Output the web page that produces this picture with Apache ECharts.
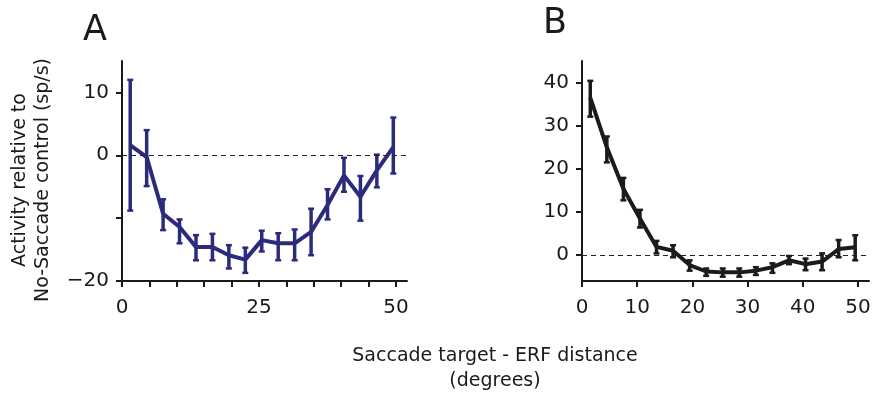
<!DOCTYPE html>
<html>
<head>
    <meta charset="utf-8">
    <script src="https://cdn.jsdelivr.net/npm/echarts@6/dist/echarts.min.js"></script>
    <style>
        html, body { margin: 0; padding: 0; background: #fff; }
        #main { width: 874px; height: 401px; }
    </style>
</head>
<body>
    <div id="main"></div>
    <script>
        // saccade target - ERF distance (deg), shared by both panels
        var distA = [1.5, 4.5, 7.5, 10.5, 13.5, 16.5, 19.5, 22.5, 25.5, 28.5, 31.5, 34.5, 37.5, 40.5, 43.5, 46.5, 49.5];
        var distB = [1.5, 4.5, 7.5, 10.5, 13.5, 16.5, 19.5, 22.5, 25.5, 28.5, 31.5, 34.5, 37.5, 40.5, 43.5, 46.5, 49.5];

        // panel A: mean and error bar ends
        var meanA = [1.6, -0.3, -9.3, -11.4, -14.6, -14.6, -15.9, -16.6, -13.5, -14.0, -14.0, -12.2, -7.9, -3.2, -6.6, -2.4, 1.3];
        var highA = [12.0, 4.0, -7.0, -10.2, -12.7, -12.5, -14.3, -14.7, -12.0, -12.4, -11.8, -8.5, -5.4, -0.4, -3.3, 0.1, 6.0];
        var lowA = [-8.8, -4.9, -11.9, -14.0, -16.7, -16.7, -18.0, -18.7, -15.3, -16.7, -16.7, -15.9, -10.2, -5.8, -10.4, -5.1, -2.9];

        // panel B
        var meanB = [36.5, 25.0, 15.4, 8.5, 1.9, 1.0, -2.3, -3.8, -4.0, -4.0, -3.6, -2.8, -1.2, -2.1, -1.5, 1.4, 1.8];
        var highB = [40.4, 27.5, 17.9, 10.5, 3.3, 2.3, -1.2, -3.1, -3.1, -3.1, -2.8, -1.9, -0.2, -0.8, 0.4, 3.5, 4.6];
        var lowB = [32.1, 21.5, 12.7, 6.4, 0.4, -0.5, -3.6, -4.8, -5.0, -5.0, -4.6, -4.1, -2.1, -3.5, -3.5, -0.5, -1.2];

        // axis ticks and labels
        var xTicksA = [0, 5, 10, 15, 20, 25, 30, 35, 40, 45, 50];
        var xLabelsA = [0, 25, 50];
        var yTicksA = [-20, -10, 0, 10];
        var yLabelsA = [-20, 0, 10];
        var xTicksB = [0, 10, 20, 30, 40, 50];
        var yTicksB = [0, 10, 20, 30, 40];

        var FONT = 'DejaVu Sans';
        var colorA = '#2b2b7e';
        var colorB = '#1b1b1b';

        function pairs(xs, ys) {
            return xs.map(function (x, i) { return [x, ys[i]]; });
        }

        function errData(xs, lo, hi) {
            return xs.map(function (x, i) { return [x, lo[i], hi[i]]; });
        }

        function errRender(color) {
            return function (params, api) {
                var lo = api.coord([api.value(0), api.value(1)]);
                var hi = api.coord([api.value(0), api.value(2)]);
                var cw = 3;
                var style = { stroke: color, lineWidth: 3.5, fill: null };
                return {
                    type: 'group',
                    children: [
                        { type: 'line', shape: { x1: lo[0], y1: lo[1], x2: hi[0], y2: hi[1] }, style: style },
                        { type: 'line', shape: { x1: lo[0] - cw, y1: lo[1], x2: lo[0] + cw, y2: lo[1] }, style: { stroke: color, lineWidth: 2.5 } },
                        { type: 'line', shape: { x1: hi[0] - cw, y1: hi[1], x2: hi[0] + cw, y2: hi[1] }, style: { stroke: color, lineWidth: 2.5 } }
                    ]
                };
            };
        }

        function fmt(v) {
            return v < 0 ? '\u2212' + Math.abs(v) : String(v);
        }

        function axisBase() {
            return {
                type: 'value',
                splitLine: { show: false },
                axisLine: { show: true, onZero: false, lineStyle: { color: '#1a1a1a', width: 2 } },
                axisTick: { show: true, length: 6, lineStyle: { color: '#1a1a1a', width: 2 } },
                axisLabel: { color: '#1a1a1a', fontFamily: FONT, fontSize: 20, formatter: fmt }
            };
        }

        function xAxis(idx, max, ticks, labels) {
            var a = axisBase();
            a.gridIndex = idx;
            a.min = 0;
            a.max = max;
            a.axisTick.customValues = ticks;
            a.axisLabel.customValues = labels;
            a.axisLabel.margin = 17;
            return a;
        }

        function yAxis(idx, min, max, ticks, labels) {
            var a = axisBase();
            a.gridIndex = idx;
            a.min = min;
            a.max = max;
            a.axisTick.customValues = ticks;
            a.axisLabel.customValues = labels;
            a.axisLabel.margin = 13;
            return a;
        }

        function zeroLine() {
            return {
                silent: true,
                symbol: 'none',
                label: { show: false },
                lineStyle: { color: '#222', type: [5, 4], width: 1.2 },
                data: [{ yAxis: 0 }]
            };
        }

        var chart = echarts.init(document.getElementById('main'));

        var option = {
            animation: false,
            grid: [
                { left: 122, top: 61, width: 285, height: 220 },
                { left: 582, top: 61, width: 287, height: 220 }
            ],
            xAxis: [
                xAxis(0, 52, xTicksA, xLabelsA),
                xAxis(1, 52, xTicksB, xTicksB)
            ],
            yAxis: [
                yAxis(0, -20, 15, yTicksA, yLabelsA),
                yAxis(1, -6, 45, yTicksB, yTicksB)
            ],
            graphic: [
                { type: 'text', left: 83, top: 13, style: { text: 'A', font: '35px "DejaVu Sans"', fill: '#1a1a1a' } },
                { type: 'text', left: 543, top: 6, style: { text: 'B', font: '35px "DejaVu Sans"', fill: '#1a1a1a' } },
                {
                    type: 'text', x: 32, y: 180, rotation: Math.PI / 2,
                    style: {
                        text: 'Activity relative to\nNo-Saccade control (sp/s)',
                        font: '19px "DejaVu Sans"', fill: '#1a1a1a',
                        align: 'center', verticalAlign: 'middle', lineHeight: 23
                    }
                },
                {
                    type: 'text', x: 495, y: 369,
                    style: {
                        text: 'Saccade target - ERF distance\n(degrees)',
                        font: '19px "DejaVu Sans"', fill: '#1a1a1a',
                        align: 'center', verticalAlign: 'middle', lineHeight: 25
                    }
                }
            ],
            series: [
                {
                    type: 'line', xAxisIndex: 0, yAxisIndex: 0,
                    data: pairs(distA, meanA),
                    symbol: 'none',
                    lineStyle: { color: colorA, width: 4 },
                    markLine: zeroLine(),
                    z: 3
                },
                {
                    type: 'custom', xAxisIndex: 0, yAxisIndex: 0,
                    data: errData(distA, lowA, highA),
                    renderItem: errRender(colorA),
                    z: 4
                },
                {
                    type: 'line', xAxisIndex: 1, yAxisIndex: 1,
                    data: pairs(distB, meanB),
                    symbol: 'none',
                    lineStyle: { color: colorB, width: 4 },
                    markLine: zeroLine(),
                    z: 3
                },
                {
                    type: 'custom', xAxisIndex: 1, yAxisIndex: 1,
                    data: errData(distB, lowB, highB),
                    renderItem: errRender(colorB),
                    z: 4
                }
            ]
        };

        chart.setOption(option);
    </script>
</body>
</html>
